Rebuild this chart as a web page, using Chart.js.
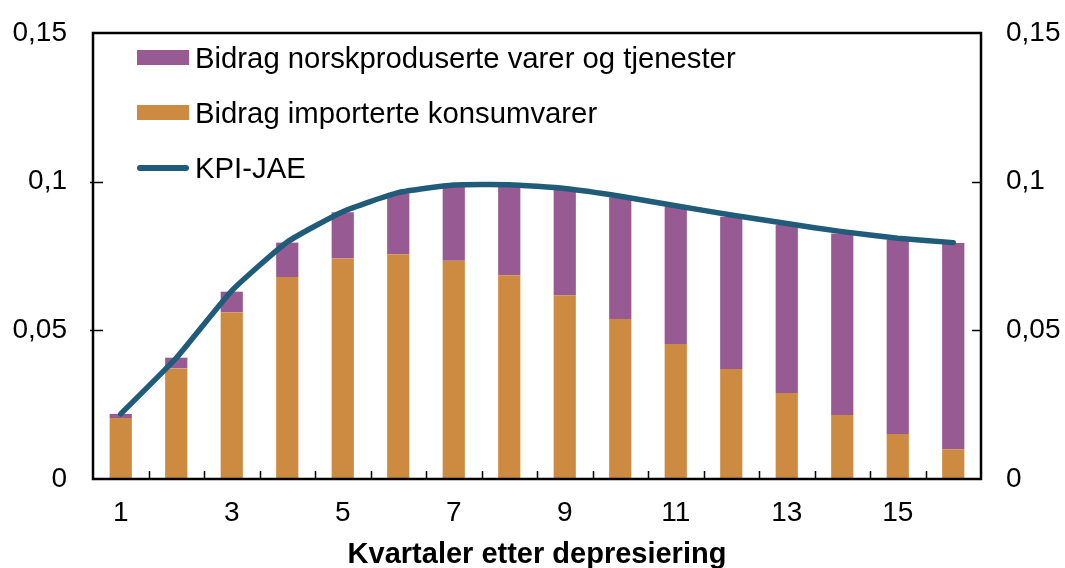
<!DOCTYPE html>
<html>
<head>
<meta charset="utf-8">
<script src="https://cdn.jsdelivr.net/npm/chart.js@4"></script>
<style>
  body { margin: 0; background: #fff; }
  #wrap { position: relative; width: 1065px; height: 568px; }
  #legend { position: absolute; left: 137px; top: 30px; font-family: "Liberation Sans", Arial, sans-serif; font-size: 29.3px; color: #000; }
  .row { display: flex; align-items: center; height: 55px; }
  .sw { width: 52px; height: 15px; margin-right: 6px; }
  .ln { width: 52px; height: 6px; border-radius: 3px; margin-right: 6px; }
</style>
</head>
<body>
<div id="wrap">
  <canvas id="chart"></canvas>
  <div id="legend"></div>
</div>
<script>
const quarters = ["1","2","3","4","5","6","7","8","9","10","11","12","13","14","15","16"];

// contribution from imported consumer goods (orange)
const imported = [0.0205, 0.0372, 0.0561, 0.0679, 0.0742, 0.0756, 0.0734, 0.0685,
                  0.0618, 0.0538, 0.0454, 0.0370, 0.0289, 0.0215, 0.0151, 0.0100];

// contribution from Norwegian-produced goods and services (purple)
const domestic = [0.0014, 0.0036, 0.0069, 0.0116, 0.0155, 0.0205, 0.0249, 0.0303,
                  0.0354, 0.0410, 0.0462, 0.0512, 0.0565, 0.0611, 0.0653, 0.0694];

// KPI-JAE line
const kpiJae = [0.0219, 0.0407, 0.0633, 0.0797, 0.0899, 0.0963, 0.0989, 0.0990,
                0.0977, 0.0951, 0.0919, 0.0888, 0.0859, 0.0832, 0.0810, 0.0795];

const yTicks = [0, 0.05, 0.1, 0.15];

const purple = "#975a93";
const orange = "#cd8b41";
const blue = "#215b7a";
const font = "'Liberation Sans', Arial, sans-serif";

const fmt = v => String(Math.round(v * 100) / 100).replace(".", ",");

// fixed axis widths, and no extra label overflow padding so the plot box stays put
const fixWidth = w => s => {
  s.width = w;
  s.paddingTop = 0;
  s.paddingBottom = 0;
};

// frame around the plot + inward tick marks
const framePlugin = {
  id: "frame",
  afterDraw(chart) {
    const { ctx, chartArea: a, scales } = chart;
    ctx.save();
    ctx.strokeStyle = "#000";
    ctx.lineWidth = 1.5;
    ctx.beginPath();
    yTicks.slice(1, -1).forEach(v => {
      const y = Math.round(scales.y.getPixelForValue(v)) + 0.5;
      ctx.moveTo(a.left - 3, y); ctx.lineTo(a.left + 10, y);
      ctx.moveTo(a.right - 9, y); ctx.lineTo(a.right, y);
    });
    for (let i = 0; i < quarters.length - 1; i++) {
      const x = Math.round((scales.x.getPixelForValue(i) + scales.x.getPixelForValue(i + 1)) / 2) + 0.5;
      ctx.moveTo(x, a.bottom); ctx.lineTo(x, a.bottom - 8);
    }
    ctx.stroke();
    ctx.lineWidth = 2.5;
    ctx.strokeRect(a.left, a.top, a.right - a.left, a.bottom - a.top);
    ctx.restore();
  }
};

const ctx = document.getElementById("chart").getContext("2d");
const chart = new Chart(ctx, {
  type: "bar",
  data: {
    labels: quarters,
    datasets: [
      {
        type: "line",
        label: "KPI-JAE",
        data: kpiJae,
        borderColor: blue,
        backgroundColor: blue,
        borderWidth: 5.5,
        pointRadius: 0,
        tension: 0.15,
        borderCapStyle: "round",
        borderJoinStyle: "round",
        order: 0,
        stack: "line"
      },
      {
        label: "Bidrag importerte konsumvarer",
        data: imported,
        backgroundColor: orange,
        stack: "s",
        order: 1,
        barPercentage: 0.4,
        categoryPercentage: 1
      },
      {
        label: "Bidrag norskproduserte varer og tjenester",
        data: domestic,
        backgroundColor: purple,
        stack: "s",
        order: 1,
        barPercentage: 0.4,
        categoryPercentage: 1
      }
    ]
  },
  options: {
    responsive: true,
    maintainAspectRatio: false,
    animation: false,
    layout: { padding: { top: 33, left: 0, right: 0, bottom: 0 } },
    plugins: {
      legend: { display: false },
      tooltip: { enabled: false }
    },
    scales: {
      x: {
        stacked: true,
        grid: { display: false, drawTicks: false },
        border: { display: false },
        ticks: {
          autoSkip: false,
          maxRotation: 0,
          padding: 17,
          color: "#000",
          font: { family: font, size: 28 },
          callback: function (value, index) {
            return index % 2 === 0 ? this.getLabelForValue(value) : "";
          }
        },
        title: {
          display: true,
          text: "Kvartaler etter depresiering",
          color: "#000",
          padding: { top: 0, bottom: 0 },
          font: { family: font, size: 29, weight: "bold", lineHeight: 0.9 }
        },
        afterFit: s => { s.height = 89; }
      },
      y: {
        stacked: true,
        position: "left",
        min: 0,
        max: 0.15,
        grid: { display: false, drawTicks: false },
        border: { display: false },
        ticks: {
          stepSize: 0.05,
          padding: 26,
          color: "#000",
          font: { family: font, size: 28 },
          callback: v => fmt(v)
        },
        afterFit: fixWidth(93)
      },
      y2: {
        position: "right",
        min: 0,
        max: 0.15,
        grid: { display: false, drawTicks: false },
        border: { display: false },
        ticks: {
          stepSize: 0.05,
          padding: 25,
          color: "#000",
          font: { family: font, size: 28 },
          callback: v => fmt(v)
        },
        afterFit: fixWidth(84)
      }
    }
  },
  plugins: [framePlugin]
});

// legend built from the datasets: purple, orange, line
const legend = document.getElementById("legend");
[2, 1, 0].forEach(i => {
  const ds = chart.data.datasets[i];
  const row = document.createElement("div");
  row.className = "row";
  const sw = document.createElement("span");
  sw.className = ds.type === "line" ? "ln" : "sw";
  sw.style.background = ds.type === "line" ? ds.borderColor : ds.backgroundColor;
  const txt = document.createElement("span");
  txt.textContent = ds.label;
  row.appendChild(sw);
  row.appendChild(txt);
  legend.appendChild(row);
});
</script>
</body>
</html>
